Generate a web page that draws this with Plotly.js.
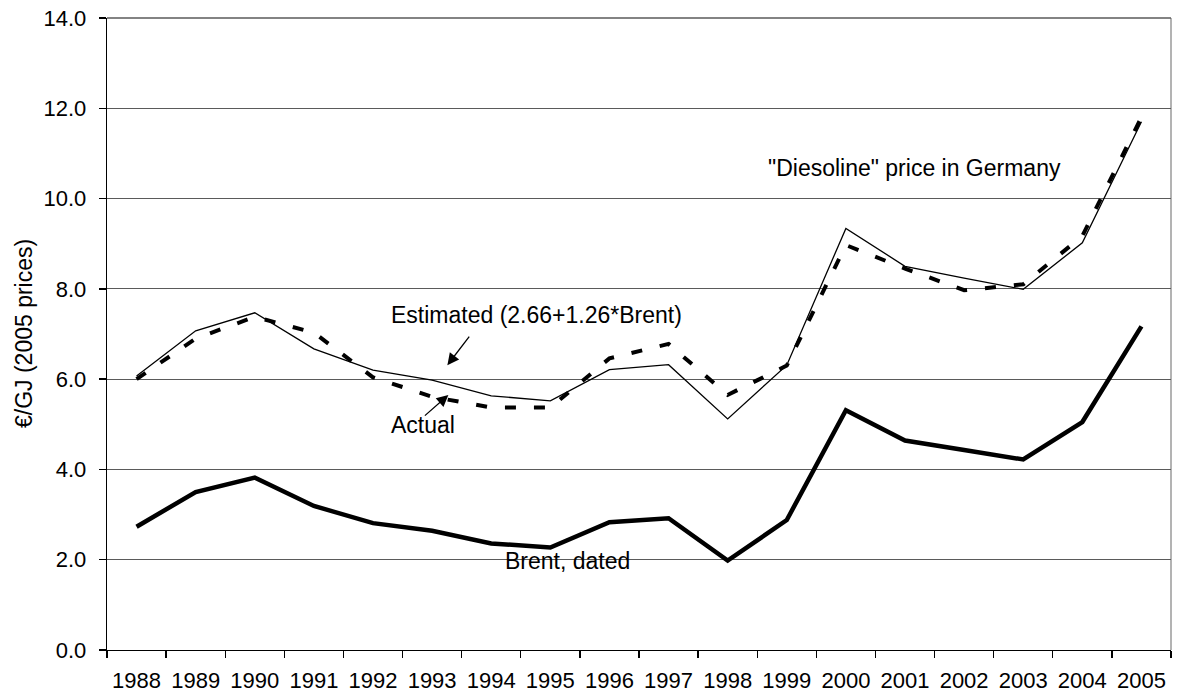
<!DOCTYPE html>
<html>
<head>
<meta charset="utf-8">
<script src="https://cdn.plot.ly/plotly-3.0.1.min.js"></script>
<style>html,body{margin:0;padding:0;background:#fff;}#chart{width:1177px;height:695px;}</style>
</head>
<body>
<div id="chart"></div>
<script>
var years = ['1988','1989','1990','1991','1992','1993','1994','1995','1996','1997','1998','1999','2000','2001','2002','2003','2004','2005'];
var actual = [6.07, 7.07, 7.47, 6.67, 6.20, 5.98, 5.63, 5.52, 6.21, 6.32, 5.12, 6.31, 9.34, 8.50, 8.24, 7.99, 9.02, 11.70];
var estimated = [6.00, 6.90, 7.38, 7.03, 6.04, 5.61, 5.37, 5.37, 6.46, 6.78, 5.65, 6.30, 8.97, 8.45, 7.97, 8.10, 9.17, 11.80];
var brent = [2.73, 3.50, 3.82, 3.19, 2.81, 2.64, 2.36, 2.27, 2.83, 2.92, 1.98, 2.88, 5.31, 4.64, 4.43, 4.22, 5.05, 7.17];
var yTicks = [0, 2, 4, 6, 8, 10, 12, 14];
var yTickText = ['0.0','2.0','4.0','6.0','8.0','10.0','12.0','14.0'];

var FONT = 'Liberation Sans, Arial, sans-serif';
var FS = 23;

var traces = [
  {x: years, y: actual, type: 'scatter', mode: 'lines', name: 'Actual',
   line: {color: '#000', width: 1.3}},
  {x: years, y: estimated, type: 'scatter', mode: 'lines', name: 'Estimated',
   line: {color: '#000', width: 4, dash: '11px,18px'}},
  {x: years, y: brent, type: 'scatter', mode: 'lines', name: 'Brent, dated',
   line: {color: '#000', width: 4.5}}
];

var layout = {
  width: 1177, height: 695,
  margin: {l: 107, r: 6, t: 18, b: 45, pad: 0},
  paper_bgcolor: '#fff', plot_bgcolor: '#fff',
  showlegend: false,
  font: {family: FONT, size: FS, color: '#000'},
  xaxis: {
    type: 'category', range: [-0.5, 17.5],
    showgrid: false, zeroline: false,
    showline: true, linecolor: '#000', linewidth: 1.3,
    ticks: 'outside', tickson: 'boundaries', ticklen: 7, tickcolor: '#000', tickwidth: 1.3,
    tickangle: 0,
    tickfont: {family: FONT, size: 22, color: '#000'},
    ticklabelstandoff: 10
  },
  yaxis: {
    range: [0, 14], tickvals: yTicks, ticktext: yTickText,
    showgrid: true, gridcolor: '#5a5a5a', gridwidth: 1,
    zeroline: false,
    showline: true, linecolor: '#000', linewidth: 1.3,
    ticks: 'outside', ticklen: 7, tickcolor: '#000', tickwidth: 1.3,
    tickfont: {family: FONT, size: 22, color: '#000'},
    ticklabelstandoff: 8
  },
  shapes: [
    {type: 'line', xref: 'paper', yref: 'paper', x0: 1, x1: 1, y0: 0, y1: 1,
     line: {color: '#8a8a8a', width: 1.3}, layer: 'below'},
    {type: 'line', xref: 'paper', yref: 'paper', x0: 0, x1: 1, y0: 1, y1: 1,
     line: {color: '#5a5a5a', width: 1.3}, layer: 'below'}
  ],
  annotations: [
    {xref: 'paper', yref: 'paper', x: -0.078, y: 0.5, text: '€/GJ (2005 prices)',
     textangle: -90, showarrow: false, xanchor: 'center', yanchor: 'middle',
     font: {family: FONT, size: FS, color: '#000'}},
    {xref: 'x', yref: 'y', x: 4.27, y: 7.42, text: 'Estimated (2.66+1.26*Brent)',
     showarrow: false, xanchor: 'left', yanchor: 'middle',
     font: {family: FONT, size: FS, color: '#000'}},
    {xref: 'x', yref: 'y', x: 4.27, y: 4.98, text: 'Actual',
     showarrow: false, xanchor: 'left', yanchor: 'middle',
     font: {family: FONT, size: FS, color: '#000'}},
    {xref: 'x', yref: 'y', x: 10.65, y: 10.68, text: '"Diesoline" price in Germany',
     showarrow: false, xanchor: 'left', yanchor: 'middle',
     font: {family: FONT, size: FS, color: '#000'}},
    {xref: 'x', yref: 'y', x: 6.195, y: 1.98, text: 'Brent, dated',
     showarrow: false, xanchor: 'left', yanchor: 'middle',
     font: {family: FONT, size: FS, color: '#000'}},
    {xref: 'x', yref: 'y', x: 5.258, y: 6.31, text: '', showarrow: true,
     ax: 23, ay: -30, arrowhead: 2, arrowsize: 1.8, arrowwidth: 1.3, arrowcolor: '#000'},
    {xref: 'x', yref: 'y', x: 5.275, y: 5.65, text: '', showarrow: true,
     ax: -25, ay: 22, arrowhead: 2, arrowsize: 1.8, arrowwidth: 1.3, arrowcolor: '#000'}
  ]
};

Plotly.newPlot('chart', traces, layout, {displayModeBar: false, staticPlot: true});
</script>
</body>
</html>
